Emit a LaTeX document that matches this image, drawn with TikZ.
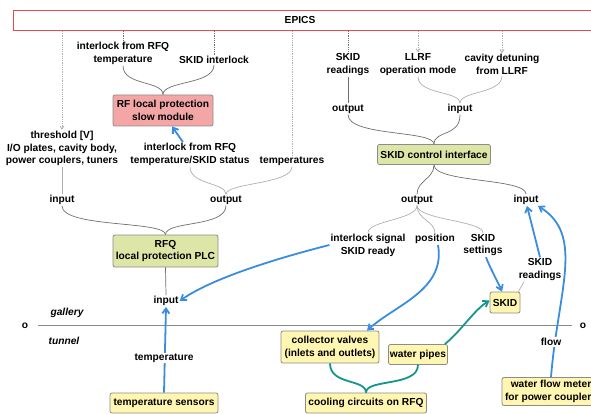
\documentclass[tikz,border=0pt]{standalone}
\usepackage{fontspec}
\setmainfont{Liberation Sans}
\usetikzlibrary{arrows.meta}
\definecolor{epred}{RGB}{232,72,80}
\definecolor{bluea}{RGB}{58,141,222}
\definecolor{teala}{RGB}{20,150,140}
\definecolor{pinkf}{RGB}{244,166,166}
\definecolor{greenf}{RGB}{221,230,166}
\definecolor{yellowf}{RGB}{255,246,178}
\definecolor{darkg}{RGB}{110,110,110}
\definecolor{lightg}{RGB}{175,175,175}
\tikzset{
  lbl/.style={font=\bfseries\fontsize{10.2}{12.8}\selectfont, align=center, inner sep=1pt},
  ital/.style={font=\bfseries\itshape\fontsize{10.2}{12.8}\selectfont, inner sep=1pt},
  boxbase/.style={lbl, draw=lightg!80!black, line width=0.8pt, rounded corners=2pt},
  pinkbox/.style={boxbase, fill=pinkf},
  greenbox/.style={boxbase, fill=greenf},
  yellowbox/.style={boxbase, fill=yellowf},
  darkline/.style={draw=darkg, line width=0.7pt},
  lightline/.style={draw=lightg, line width=0.7pt},
  dotdark/.style={draw=darkg, line width=0.8pt, densely dotted},
  dotlight/.style={draw=lightg, line width=0.8pt, densely dotted},
  dotarrow/.style={dotlight, -{Straight Barb[length=3pt,width=4pt]}},
  bluearrow/.style={draw=bluea, line width=1.8pt, -{Straight Barb[length=5pt,width=7pt]}},
  tealarrow/.style={draw=teala, line width=1.8pt, -{Straight Barb[length=5pt,width=7pt]}},
  tealline/.style={draw=teala, line width=1.8pt},
}
\begin{document}
\begin{tikzpicture}[x=1pt,y=-1pt]
\useasboundingbox (0,0) rectangle (591,414);
\begin{scope}
\clip (0,0) rectangle (591,414);
% EPICS
\node[draw=epred, fill=white, line width=1pt, minimum width=620pt, minimum height=20pt, anchor=north west, inner sep=0pt] (epics) at (13,10) {};
\node[lbl] (epicslbl) at (300,20) {EPICS};

% top-left labels
\node[lbl] (lIRT) at (123,53.5) {interlock from RFQ\\temperature};
\node[lbl] (lSI) at (214,60) {SKID interlock};
\node[pinkbox, minimum width=100pt, minimum height=31pt] (rfbox) at (163,110.5) {RF local protection\\slow module};
\node[lbl] (lThr) at (62,148.5) {threshold [V]\\I/O plates, cavity body,\\power couplers, tuners};
\node[lbl] (lIRT2) at (190,154.5) {interlock from RFQ\\temperature/SKID status};
\node[lbl] (lTemps) at (292,161) {temperatures};
\node[lbl] (inA) at (62,200) {input};
\node[lbl] (outA) at (226,200) {output};
\node[greenbox, minimum width=105pt, minimum height=32pt] (plc) at (165.5,251) {RFQ\\local protection PLC};
\node[lbl] (inB) at (166,301) {input};

% top-right labels
\node[lbl] (lSR) at (348,64.5) {SKID\\readings};
\node[lbl] (lLLRF) at (418,64.5) {LLRF\\operation mode};
\node[lbl] (lCav) at (502,64.5) {cavity detuning\\from LLRF};
\node[lbl] (outC) at (348,109) {output};
\node[lbl] (inC) at (460,109) {input};
\node[greenbox, minimum width=113pt, minimum height=20pt] (sci) at (434,154.5) {SKID control interface};
\node[lbl] (outD) at (417,200) {output};
\node[lbl] (inD) at (526,200) {input};
\node[lbl] (lISR) at (368,245) {interlock signal\\SKID ready};
\node[lbl] (lPos) at (435,239) {position};
\node[lbl] (lSS) at (483,245) {SKID\\settings};
\node[yellowbox, minimum width=30pt, minimum height=21pt, inner sep=2pt] (skid) at (505,302.5) {SKID};
\node[lbl] (lSR2) at (540,269.5) {SKID\\readings};

% gallery / tunnel
\node[ital] (gal) at (67,313) {gallery};
\node[ital] (tun) at (64,341) {tunnel};
\node[lbl] (oL) at (25,326) {o};
\node[lbl] (oR) at (583,326) {o};
\coordinate (gl) at (38,325.5);
\coordinate (gr) at (572,325.5);
\draw[draw=darkg!80, line width=0.8pt] (gl) -- (gr);

% bottom boxes
\node[yellowbox, minimum width=108pt, minimum height=20pt] (tsens) at (164,403) {temperature sensors};
\node[yellowbox, minimum width=98pt, minimum height=32pt] (coll) at (330,347) {collector valves\\(inlets and outlets)};
\node[yellowbox, minimum width=59pt, minimum height=20pt] (pipes) at (418,354.5) {water pipes};
\node[yellowbox, minimum width=121pt, minimum height=20pt] (cool) at (366,403) {cooling circuits on RFQ};
\node[yellowbox, minimum width=98pt, minimum height=28pt] (flowm) at (551,391.5) {water flow meter\\for power couplers};

% dotted lines from EPICS
\draw[dotarrow] (lThr.north |- epics.south) -- (lThr.north);
\draw[dotdark] (lIRT.north |- epics.south) -- (lIRT.north);
\draw[dotdark] (lSI.north |- epics.south) -- (lSI.north);
\draw[dotlight] (lTemps.north |- epics.south) -- (lTemps.north);
\draw[dotdark] (lSR.north |- epics.south) -- (lSR.north);
\draw[dotarrow] (lLLRF.north |- epics.south) -- (lLLRF.north);
\draw[dotarrow] (lCav.north |- epics.south) -- (lCav.north);

% braces (gray)
\draw[darkline] (lIRT.south) .. controls +(0,20) and +(0,-14) .. (rfbox.north);
\draw[darkline] (lSI.south) .. controls +(0,20) and +(0,-14) .. (rfbox.north);
\draw[lightline] (lThr.south) -- (inA.north);
\draw[lightline] (lIRT2.south) .. controls +(0,18) and +(0,-12) .. (outA.north);
\draw[lightline] (lTemps.south) .. controls +(0,18) and +(0,-12) .. (outA.north);
\draw[darkline] (inA.south) .. controls +(0,22) and +(0,-14) .. (plc.north);
\draw[darkline] (outA.south) .. controls +(0,22) and +(0,-14) .. (plc.north);
\draw[darkline] (plc.south) -- (inB.north);
\draw[darkline] (lSR.south) -- (outC.north);
\draw[lightline] (lLLRF.south) .. controls +(0,18) and +(0,-12) .. (inC.north);
\draw[lightline] (lCav.south) .. controls +(0,18) and +(0,-12) .. (inC.north);
\draw[darkline] (outC.south) .. controls +(0,22) and +(0,-14) .. (sci.north);
\draw[darkline] (inC.south) .. controls +(0,22) and +(0,-14) .. (sci.north);
\draw[darkline] (sci.south) .. controls +(0,14) and +(0,-14) .. (outD.north);
\draw[darkline] (sci.south) .. controls +(0,18) and +(0,-16) .. (inD.north);
\draw[lightline] (outD.south) .. controls +(0,14) and +(0,-12) .. (lISR.north);
\draw[lightline] (outD.south) .. controls +(0,14) and +(0,-12) .. (lPos.north);
\draw[lightline] (outD.south) .. controls +(0,14) and +(0,-12) .. (lSS.north);
\draw[lightline] ([xshift=-16pt]lSR2.south) -- ([xshift=-2pt]skid.north east);

% blue arrows
\draw[bluearrow] ([xshift=-7pt]lIRT2.north) -- ([xshift=9pt]rfbox.south);
\draw[bluearrow] (lISR.west) .. controls (290,255) and (215,276) .. (inB.east);
\draw[bluearrow] (tsens.north) -- (inB.south);
\node[lbl, fill=white] (lTemp) at (164,358) {temperature};
\draw[bluearrow] ([xshift=3pt]lPos.south) .. controls (446,290) and (395,305) .. ([xshift=37pt]coll.north);
\draw[bluearrow] ([xshift=3pt]lSS.south) .. controls (490,268) and (498,282) .. ([xshift=-3pt]skid.north);
\draw[bluearrow] (lSR2.north) -- ([xshift=1pt]inD.south);
\draw[bluearrow] (flowm.north) .. controls (558,290) and (585,235) .. ([xshift=12pt]inD.south);
\node[lbl, fill=white] (lFlow) at (551,342) {flow};

% teal
\draw[tealarrow] ([xshift=-3pt]pipes.north east) .. controls (462,330) and (474,310) .. ([yshift=2pt]skid.west);
\draw[tealline] (coll.south) .. controls +(0,22) and +(0,-14) .. (cool.north);
\draw[tealline] (pipes.south) .. controls +(0,22) and +(0,-14) .. (cool.north);
\end{scope}
\end{tikzpicture}
\end{document}
